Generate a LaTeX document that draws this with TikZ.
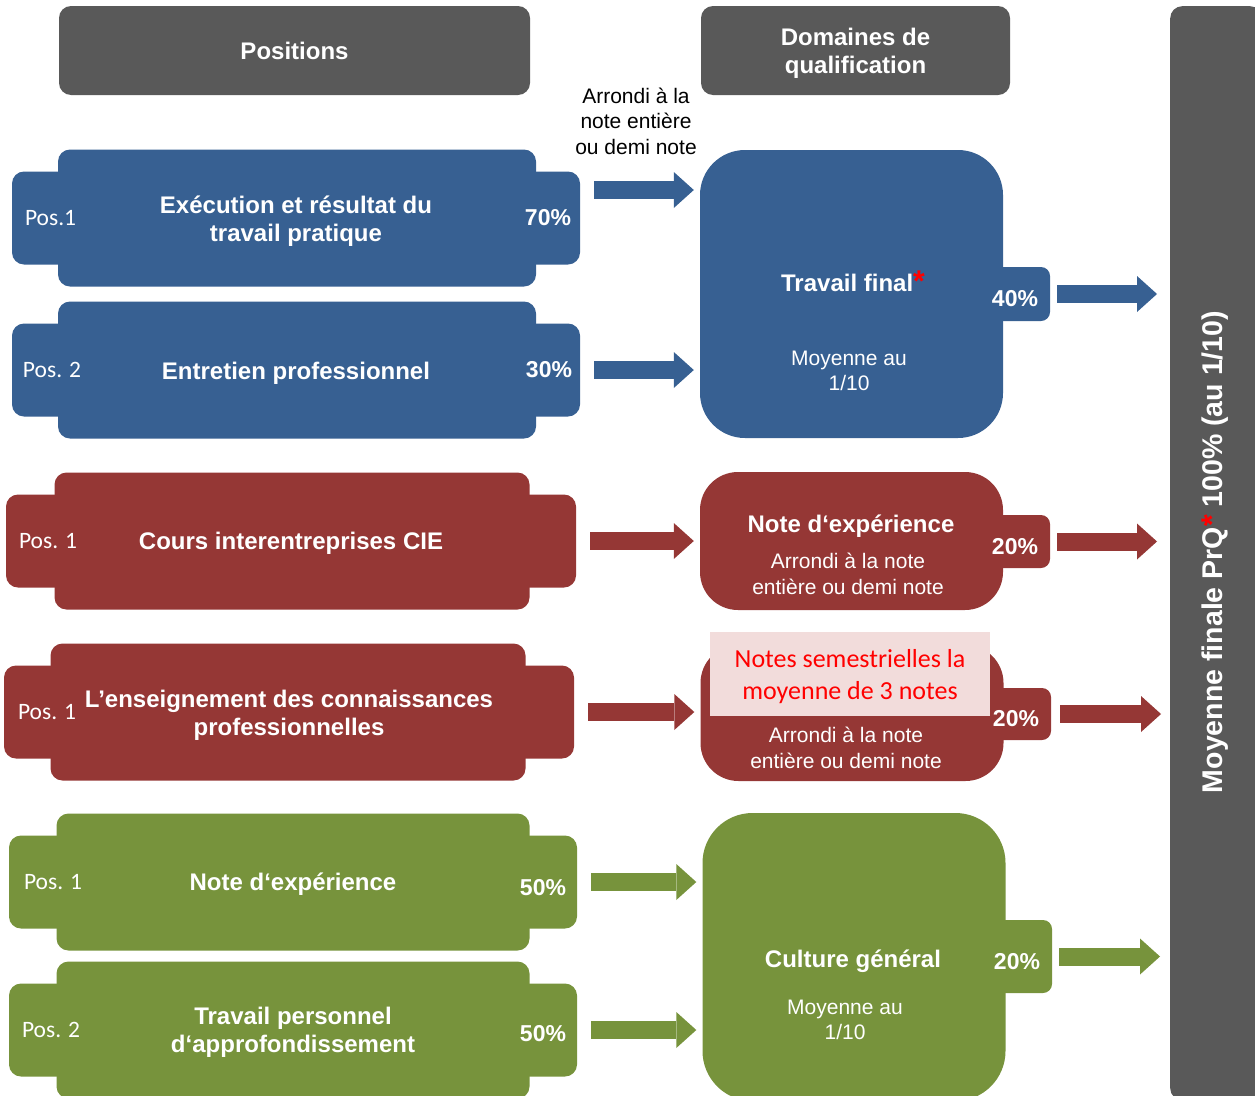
\documentclass[tikz,border=0pt]{standalone}
\usepackage{fontspec}
\setmainfont{Liberation Sans}
\newfontfamily\calibri{Carlito}
\usetikzlibrary{arrows.meta,positioning}

\definecolor{hdrgray}{HTML}{595959}
\definecolor{tfblue}{HTML}{376092}
\definecolor{cired}{HTML}{953735}
\definecolor{cggreen}{HTML}{77933C}
\definecolor{notepink}{HTML}{F2DCDB}

\newcommand\redstar{\textcolor{red}{\fontsize{30}{30}\selectfont *}}

\begin{document}
\begin{tikzpicture}[x=1pt,y=-1pt,
    every node/.style={text=white},
    hdr/.style={fill=hdrgray, rounded corners=12pt, minimum height=89pt, align=center,
      font=\fontsize{24}{29}\selectfont\bfseries},
    tallpart/.style={rounded corners=12pt, minimum width=478pt, minimum height=137pt, inner sep=0pt},
    widepart/.style={rounded corners=12pt, minimum width=568pt, minimum height=93pt, inner sep=0pt},
    dom/.style={rounded corners=45pt, minimum width=303pt},
    tabbox/.style={rounded corners=9pt, minimum width=70pt, inner sep=0pt,
      text height=25pt, text depth=0pt, font=\fontsize{23}{27}\selectfont\bfseries},
    maintxt/.style={align=center, font=\fontsize{24}{28}\selectfont\bfseries},
    subtxt/.style={align=center, font=\fontsize{21}{25.5}\selectfont},
    postxt/.style={inner sep=0pt, font=\calibri\fontsize{23.5}{28}\selectfont},
    pcttxt/.style={inner sep=0pt, font=\fontsize{23}{27}\selectfont\bfseries},
    blockarrow/.style={line width=18pt, -{Triangle[length=20pt,width=36pt,line width=0pt]},
      shorten <=14pt, shorten >=6pt},
  ]
  \useasboundingbox (0,0) rectangle (1255,1095);

  % headers
  \node[hdr, minimum width=471pt] (positions) at (294.5,50.5) {Positions};
  \node[hdr, minimum width=309pt] (domaines) at (855.5,50.5) {};
  \node[maintxt] (domtxt) at (855.5,53) {Domaines de\\qualification};
  \node[hdr, minimum width=92pt, minimum height=1094pt, anchor=north west] (final) at (1170,6) {};
  \node[rotate=90, font=\fontsize{28.5}{32}\selectfont\bfseries] (finaltxt) at (1215,552)
    {Moyenne finale PrQ\redstar\ 100\% (au 1/10)};

  % positions, travail final
  \node[widepart, fill=tfblue] (b1w) at (296,218) {};
  \node[tallpart, fill=tfblue] (b1) at (297,218) {};
  \node[maintxt] (b1txt) at (296,221) {Exécution et résultat du\\travail pratique};
  \node[postxt, right=13pt of b1w.west] (b1pos) {Pos.1};
  \node[pcttxt, left=9pt of b1w.east] (b1pct) {70\%};

  \node[widepart, fill=tfblue] (b2w) at (296,370) {};
  \node[tallpart, fill=tfblue] (b2) at (297,370) {};
  \node[maintxt] (b2txt) at (296,373) {Entretien professionnel};
  \node[postxt, right=11pt of b2w.west] (b2pos) {Pos. 2};
  \node[pcttxt, left=8pt of b2w.east] (b2pct) {30\%};

  % positions, note d'experience
  \node[widepart, minimum width=570pt, fill=cired] (r1w) at (291,541) {};
  \node[tallpart, minimum width=475pt, fill=cired] (r1) at (292,541) {};
  \node[maintxt] (r1txt) at (291,543) {Cours interentreprises CIE};
  \node[postxt, right=13pt of r1w.west] (r1pos) {Pos. 1};

  \node[widepart, minimum width=570pt, fill=cired] (r2w) at (289,712) {};
  \node[tallpart, minimum width=475pt, fill=cired] (r2) at (288,712) {};
  \node[maintxt] (r2txt) at (289,715) {L’enseignement des connaissances\\professionnelles};
  \node[postxt, right=14pt of r2w.west] (r2pos) {Pos. 1};

  % positions, culture generale
  \node[widepart, fill=cggreen] (g1w) at (293,882) {};
  \node[tallpart, minimum width=473pt, fill=cggreen] (g1) at (293,882) {};
  \node[maintxt] (g1txt) at (293,884) {Note d‘expérience};
  \node[postxt, right=15pt of g1w.west] (g1pos) {Pos. 1};
  \node[pcttxt, left=11pt of g1w.east, yshift=-6pt] (g1pct) {50\%};

  \node[widepart, fill=cggreen] (g2w) at (293,1030) {};
  \node[tallpart, minimum width=473pt, fill=cggreen] (g2) at (293,1030) {};
  \node[maintxt] (g2txt) at (293,1032) {Travail personnel\\d‘approfondissement};
  \node[postxt, right=13pt of g2w.west] (g2pos) {Pos. 2};
  \node[pcttxt, left=11pt of g2w.east, yshift=-4pt] (g2pct) {50\%};

  % domaines
  \node[dom, fill=tfblue, minimum height=288pt] (tf) at (851.5,294) {};
  \node[tabbox, fill=tfblue, minimum height=54pt] (tfpct) at (1015,294) {40\%};
  \node[maintxt] (tftitle) at (853,281) {Travail final\redstar};
  \node[subtxt] (tfsub) at (849,371) {Moyenne au\\1/10};
  \node[subtxt, text=black] (arrondi) at (636,121) {Arrondi à la\\note entière\\ou demi note};

  \node[dom, rounded corners=38pt, fill=cired, minimum height=138pt] (ne) at (851.5,541) {};
  \node[tabbox, fill=cired, minimum height=53pt] (nepct) at (1015,541.5) {20\%};
  \node[maintxt] (netitle) at (851,526) {Note d‘expérience};
  \node[subtxt] (nesub) at (848,574) {Arrondi à la note\\entière ou demi note};

  \node[dom, rounded corners=38pt, fill=cired, minimum height=136pt] (ek) at (852,713) {};
  \node[tabbox, fill=cired, minimum height=52pt] (ekpct) at (1016,714) {20\%};
  \node[fill=notepink, minimum width=280pt, minimum height=84pt] (eknote) at (850,674) {};
  \node[text=red, align=center, font=\calibri\fontsize{26}{32}\selectfont] (eknotetxt) at (850,677)
    {Notes semestrielles la\\moyenne de 3 notes};
  \node[subtxt] (eksub) at (846,748) {Arrondi à la note\\entière ou demi note};

  \node[dom, rounded corners=50pt, fill=cggreen, minimum height=288pt] (cg) at (854,957) {};
  \node[tabbox, fill=cggreen, minimum height=73pt] (cgpct) at (1017,956.5) {20\%};
  \node[maintxt] (cgtitle) at (853,961) {Culture général};
  \node[subtxt] (cgsub) at (845,1020) {Moyenne au\\1/10};

  % arrows
  \coordinate (a1) at ([yshift=28pt]b1w.east);
  \draw[blockarrow, tfblue] (a1) -- (a1 -| tf.west);
  \draw[blockarrow, tfblue] (b2w.east) -- (b2w.east -| tf.west);
  \draw[blockarrow, cired] (r1w.east) -- (r1w.east -| ne.west);
  \draw[blockarrow, cired] (r2w.east) -- (r2w.east -| ek.west);
  \draw[blockarrow, cggreen] (g1w.east) -- (g1w.east -| cg.west);
  \draw[blockarrow, cggreen] (g2w.east) -- (g2w.east -| cg.west);

  \draw[blockarrow, tfblue, shorten <=7pt, shorten >=13pt] (tfpct.east) -- (tfpct.east -| final.west);
  \draw[blockarrow, cired, shorten <=7pt, shorten >=13pt] (nepct.east) -- (nepct.east -| final.west);
  \draw[blockarrow, cired, shorten <=9pt, shorten >=9pt] (ekpct.east) -- (ekpct.east -| final.west);
  \draw[blockarrow, cggreen, shorten <=7pt, shorten >=10pt] (cgpct.east) -- (cgpct.east -| final.west);
\end{tikzpicture}
\end{document}
